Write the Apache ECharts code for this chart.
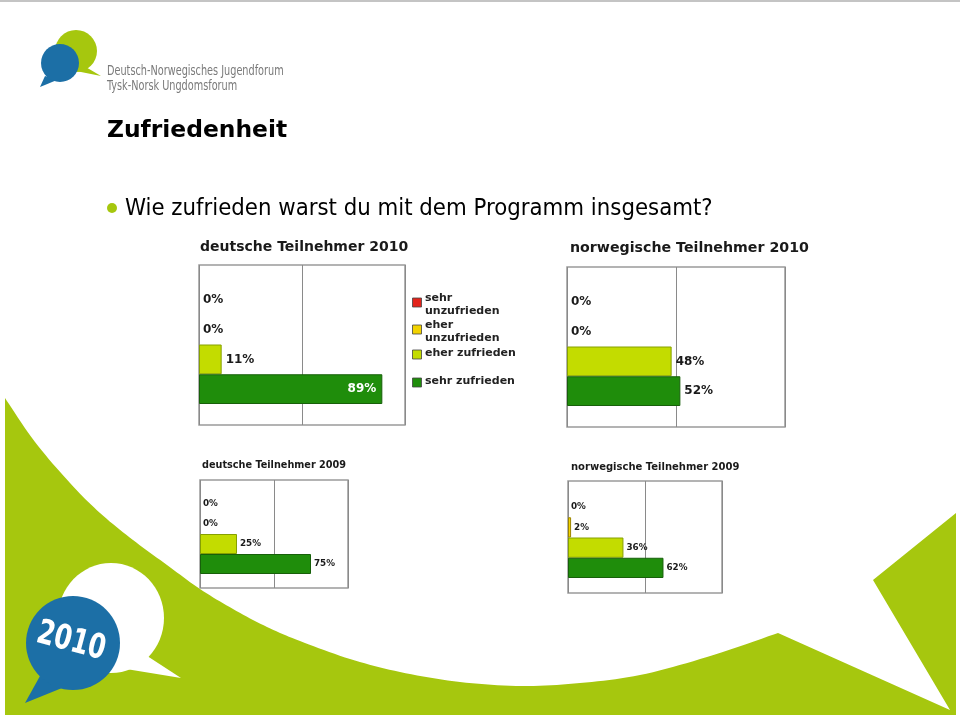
<!DOCTYPE html>
<html><head><meta charset="utf-8">
<script src="https://cdn.jsdelivr.net/npm/echarts@6/dist/echarts.min.js"></script>
<style>html,body{margin:0;padding:0;background:#fff}#c{width:960px;height:719px}</style>
</head><body><div id="c"></div>
<script>
// ---- data ----
const categories = ['sehr unzufrieden', 'eher unzufrieden', 'eher zufrieden', 'sehr zufrieden'];
const legendLabels = ['sehr\nunzufrieden', 'eher\nunzufrieden', 'eher zufrieden', 'sehr zufrieden'];
const chartTitles = ['deutsche Teilnehmer 2010', 'norwegische Teilnehmer 2010', 'deutsche Teilnehmer 2009', 'norwegische Teilnehmer 2009'];
const deutsch2010 = [0, 0, 11, 89];
const norwegisch2010 = [0, 0, 48, 52];
const deutsch2009 = [0, 0, 25, 75];
const norwegisch2009 = [0, 2, 36, 62];
const xTicks = [0, 50, 100];
const slideTitle = 'Zufriedenheit';
const question = 'Wie zufrieden warst du mit dem Programm insgesamt?';
const logoLines = ['Deutsch-Norwegisches Jugendforum', 'Tysk-Norsk Ungdomsforum'];
const logoYear = '2010';

// ---- styles / layout ----
const colors = ['#e3231b', '#f2d300', '#c3dc00', '#1f8d0b'];
const borders = ['#9a1010', '#9c8500', '#86a000', '#17600a'];
const GREEN = '#a6c70e', BLUE = '#1c6fa6';
const BOLD = 'DejaVu Sans';
const charts = [
  { values: deutsch2010, frame: { left: 199, top: 265, width: 206, height: 160 }, bars: { top: 285, height: 119 }, title: { x: 200, y: 247.5, size: 14 }, label: 12, dist: 4, insideIdx: 3 },
  { values: norwegisch2010, frame: { left: 567, top: 267, width: 218, height: 160 }, bars: { top: 287, height: 119 }, title: { x: 570, y: 248, size: 14.2 }, label: 12, dist: 4, insideIdx: -1 },
  { values: deutsch2009, frame: { left: 200, top: 480, width: 148, height: 108 }, bars: { top: 494, height: 80 }, title: { x: 202, y: 465.5, size: 9.7 }, label: 8.8, dist: 3, insideIdx: -1 },
  { values: norwegisch2009, frame: { left: 568, top: 481, width: 154, height: 112 }, bars: { top: 497, height: 81 }, title: { x: 571, y: 467.5, size: 10 }, label: 8.8, dist: 3, insideIdx: -1 }
];

const grid = [], xAxis = [], yAxis = [], series = [];
const graphics = [];

// smooth background curve (Catmull-Rom through guide points)
function spline(pts, steps) {
  const out = [];
  for (let i = 0; i < pts.length - 1; i++) {
    const p0 = pts[Math.max(0, i - 1)], p1 = pts[i], p2 = pts[i + 1], p3 = pts[Math.min(pts.length - 1, i + 2)];
    for (let s = 0; s < steps; s++) {
      const t = s / steps, t2 = t * t, t3 = t2 * t;
      out.push([0, 1].map(k => 0.5 * ((2 * p1[k]) + (-p0[k] + p2[k]) * t + (2 * p0[k] - 5 * p1[k] + 4 * p2[k] - p3[k]) * t2 + (-p0[k] + 3 * p1[k] - 3 * p2[k] + p3[k]) * t3)));
    }
  }
  out.push(pts[pts.length - 1]);
  return out;
}
const curveGuide = [[5,398],[35,442],[70,483],[100,513],[133,540],[167,565],[200,589],[233,609],[267,627],[300,641],[350,659],[400,672],[460,682],[522,686],[580,683],[640,675],[707,657],[778,633]];
const bgPts = spline(curveGuide, 10).concat([[950,710],[873,580],[956,513],[956,715],[5,715]]);
graphics.push({ type: 'polygon', z: -10, shape: { points: bgPts }, style: { fill: GREEN }, silent: true });
graphics.push({ type: 'line', z: -10, shape: { x1: 0, y1: 1, x2: 960, y2: 1 }, style: { stroke: '#b0b0b0', lineWidth: 1.5 }, silent: true });

// top logo
graphics.push({ type: 'polygon', z: -5, shape: { points: [[84,66],[101,76],[76,71]] }, style: { fill: GREEN } });
graphics.push({ type: 'circle', z: -5, shape: { cx: 76, cy: 51, r: 21 }, style: { fill: GREEN } });
graphics.push({ type: 'polygon', z: -4, shape: { points: [[45,76],[40,87],[57,80]] }, style: { fill: BLUE } });
graphics.push({ type: 'circle', z: -4, shape: { cx: 60, cy: 63, r: 19 }, style: { fill: BLUE } });
graphics.push({ type: 'text', z: 5, x: 107, y: 71, scaleX: 0.8, style: { text: logoLines[0], x: 0, y: 0, fill: '#7a7a7a', font: '13.5px "DejaVu Sans Condensed", sans-serif', verticalAlign: 'middle' } });
graphics.push({ type: 'text', z: 5, x: 107, y: 86, scaleX: 0.8, style: { text: logoLines[1], x: 0, y: 0, fill: '#7a7a7a', font: '13.5px "DejaVu Sans Condensed", sans-serif', verticalAlign: 'middle' } });

// bottom logo
graphics.push({ type: 'polygon', z: -5, shape: { points: [[138,650],[181,678],[120,668]] }, style: { fill: '#fff' } });
graphics.push({ type: 'ellipse', z: -5, shape: { cx: 111, cy: 618, rx: 53, ry: 55 }, style: { fill: '#fff' } });
graphics.push({ type: 'polygon', z: -4, shape: { points: [[40,676],[25,703],[62,688]] }, style: { fill: BLUE } });
graphics.push({ type: 'circle', z: -4, shape: { cx: 73, cy: 643, r: 47 }, style: { fill: BLUE } });
graphics.push({ type: 'text', z: 5, x: 71, y: 642, rotation: -0.26, scaleX: 0.9, scaleY: 1.1, style: { text: logoYear, x: 0, y: 0, fill: '#fff', font: 'bold 31px "DejaVu Sans Condensed", sans-serif', align: 'center', verticalAlign: 'middle' } });

// slide title and question
graphics.push({ type: 'text', z: 5, style: { text: slideTitle, x: 107, y: 131, fill: '#000', font: 'bold 23.4px "DejaVu Sans", sans-serif', verticalAlign: 'middle' } });
graphics.push({ type: 'circle', z: 5, shape: { cx: 112, cy: 208, r: 5 }, style: { fill: GREEN } });
graphics.push({ type: 'text', z: 5, style: { text: question, x: 125, y: 209, fill: '#000', font: '23.7px "DejaVu Sans Condensed", sans-serif', verticalAlign: 'middle' } });

// legend
const legTops = [292, 319, 347, 375];
const legSq = [298, 325, 350, 378];
legendLabels.forEach((t, j) => {
  graphics.push({ type: 'rect', z: 10, shape: { x: 412.5, y: legSq[j], width: 9, height: 9 }, style: { fill: colors[j], stroke: '#444', lineWidth: 0.8 } });
  graphics.push({ type: 'text', z: 10, style: { text: t, x: 425, y: legTops[j], fill: '#222', font: 'bold 11px "DejaVu Sans", sans-serif', lineHeight: 13, verticalAlign: 'top' } });
});

charts.forEach((c, i) => {
  const fi = 2 * i, bi = 2 * i + 1;
  grid.push({ left: c.frame.left, top: c.frame.top, width: c.frame.width, height: c.frame.height, show: true, backgroundColor: '#fff', borderColor: '#9a9a9a', borderWidth: 1.5 });
  grid.push({ left: c.frame.left, top: c.bars.top, width: c.frame.width, height: c.bars.height, show: false });
  xAxis.push({ gridIndex: fi, type: 'value', min: xTicks[0], max: xTicks[xTicks.length - 1], interval: xTicks[1] - xTicks[0], axisLine: { show: false }, axisTick: { show: false }, axisLabel: { show: false }, splitLine: { show: true, lineStyle: { color: '#8a8a8a', width: 1 } } });
  yAxis.push({ gridIndex: fi, type: 'value', min: 0, max: 1, show: false });
  xAxis.push({ gridIndex: bi, type: 'value', min: xTicks[0], max: xTicks[xTicks.length - 1], show: false });
  yAxis.push({ gridIndex: bi, type: 'category', data: categories, inverse: true, show: false });
  series.push({
    type: 'bar', xAxisIndex: bi, yAxisIndex: bi, barCategoryGap: '0%', animation: false,
    data: c.values.map((v, j) => ({
      value: v,
      itemStyle: { color: colors[j], borderColor: borders[j], borderWidth: v > 0 ? 1 : 0 },
      label: j === c.insideIdx
        ? { show: true, position: 'insideRight', distance: 6, color: '#fff' }
        : { show: true, position: 'right', distance: c.dist, color: '#1a1a1a' }
    })),
    label: { formatter: '{c}%', fontFamily: BOLD, fontWeight: 'bold', fontSize: c.label },
    emphasis: { disabled: true }
  });
  graphics.push({ type: 'text', z: 10, style: { text: chartTitles[i], x: c.title.x, y: c.title.y, fill: '#1a1a1a', font: 'bold ' + c.title.size + 'px "DejaVu Sans", sans-serif', verticalAlign: 'middle' } });
});

const chart = echarts.init(document.getElementById('c'), null, { renderer: 'canvas' });
chart.setOption({
  animation: false,
  backgroundColor: '#fff',
  grid, xAxis, yAxis, series,
  graphic: { elements: graphics }
});
</script>
</body></html>
